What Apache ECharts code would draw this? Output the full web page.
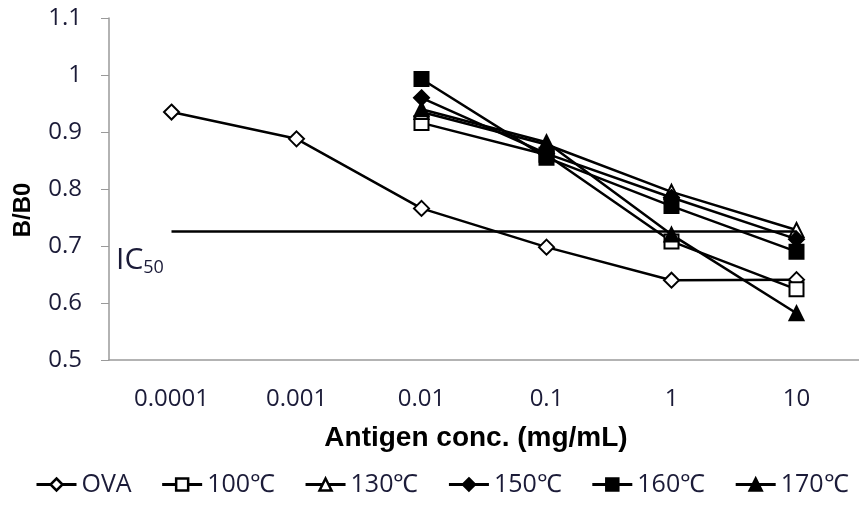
<!DOCTYPE html>
<html>
<head>
<meta charset="utf-8">
<script src="https://cdn.jsdelivr.net/npm/echarts@6/dist/echarts.min.js"></script>
<style>
  html, body { margin: 0; padding: 0; background: #fff; }
  #chart { width: 859px; height: 507px; }
</style>
</head>
<body>
<div id="chart"></div>
<script>
// concentrations (mg/mL)
const categories = ['0.0001', '0.001', '0.01', '0.1', '1', '10'];
const ova = [0.935, 0.888, 0.766, 0.698, 0.640, 0.641];
const t100 = [null, null, 0.916, 0.860, 0.708, 0.624];
const t130 = [null, null, 0.935, 0.878, 0.795, 0.728];
const t150 = [null, null, 0.960, 0.862, 0.785, 0.712];
const t160 = [null, null, 0.993, 0.855, 0.770, 0.690];
const t170 = [null, null, 0.940, 0.882, 0.720, 0.582];
const ic50 = 0.726;

const labelFont = "'Open Sans', sans-serif";
const titleFont = "'Liberation Sans', Arial, sans-serif";
const navy = '#1b1b38';

function mkSeries(name, data, symbol, filled) {
  return {
    name: name,
    type: 'line',
    data: data,
    symbol: symbol,
    symbolSize: symbol === 'diamond' ? 15 : 14,
    showAllSymbol: true,
    connectNulls: false,
    lineStyle: { color: '#000', width: 2.5 },
    itemStyle: {
      color: filled ? '#000' : '#fff',
      borderColor: '#000',
      borderWidth: 2
    },
    emphasis: { disabled: true },
    animation: false
  };
}

const myChart = echarts.init(document.getElementById('chart'));
myChart.setOption({
  backgroundColor: '#fff',
  animation: false,
  grid: { left: 109, top: 18, right: -8, bottom: 147 },
  legend: {
    bottom: 5,
    left: 30,
    itemGap: 29,
    itemWidth: 40,
    itemHeight: 15,
    lineStyle: { width: 3 },
    itemStyle: { borderWidth: 2.5 },
    textStyle: { fontFamily: labelFont, fontSize: 25, color: navy },
    data: ['OVA', '100℃', '130℃', '150℃', '160℃', '170℃']
  },
  xAxis: {
    type: 'category',
    data: categories,
    name: 'Antigen conc. (mg/mL)',
    nameLocation: 'middle',
    nameGap: 64,
    nameTextStyle: { fontFamily: titleFont, fontSize: 28, fontWeight: 'bold', color: '#000', padding: [0, 16, 0, 0] },
    axisLine: { lineStyle: { color: '#9a9a9a', width: 1.5 } },
    axisTick: { alignWithLabel: false, length: 8, lineStyle: { color: '#9a9a9a' } },
    axisLabel: { fontFamily: labelFont, fontSize: 24, color: navy, margin: 27 }
  },
  yAxis: {
    type: 'value',
    min: 0.5,
    max: 1.1,
    interval: 0.1,
    name: 'B/B0',
    nameLocation: 'middle',
    nameGap: 74,
    nameRotate: 90,
    nameTextStyle: { fontFamily: titleFont, fontSize: 24, fontWeight: 'bold', color: '#000', padding: [0, 42, 0, 0] },
    splitLine: { show: false },
    axisLine: { show: true, lineStyle: { color: '#9a9a9a', width: 1.5 } },
    axisTick: { show: true, length: 8, lineStyle: { color: '#9a9a9a' } },
    axisLabel: {
      fontFamily: labelFont,
      fontSize: 24,
      color: navy,
      margin: 27,
      formatter: function (v) { return String(Math.round(v * 10) / 10); }
    }
  },
  graphic: [{
    type: 'text',
    left: 116,
    top: 245,
    style: {
      text: 'IC{s|50}',
      fill: navy,
      font: "30px 'Open Sans', sans-serif",
      rich: { s: { fontSize: 18, padding: [16, 0, 0, 0], fill: navy, fontFamily: 'Open Sans' } }
    }
  }],
  series: [
    mkSeries('OVA', ova, 'diamond', false),
    mkSeries('100℃', t100, 'rect', false),
    mkSeries('130℃', t130, 'triangle', false),
    mkSeries('150℃', t150, 'diamond', true),
    mkSeries('160℃', t160, 'rect', true),
    mkSeries('170℃', t170, 'triangle', true),
    {
      name: 'IC50',
      type: 'line',
      data: [],
      markLine: {
        silent: true,
        symbol: 'none',
        label: { show: false },
        lineStyle: { color: '#000', width: 2.5, type: 'solid' },
        data: [[{ coord: [categories[0], ic50] }, { coord: [categories[categories.length - 1], ic50] }]]
      }
    }
  ]
});
</script>
</body>
</html>
